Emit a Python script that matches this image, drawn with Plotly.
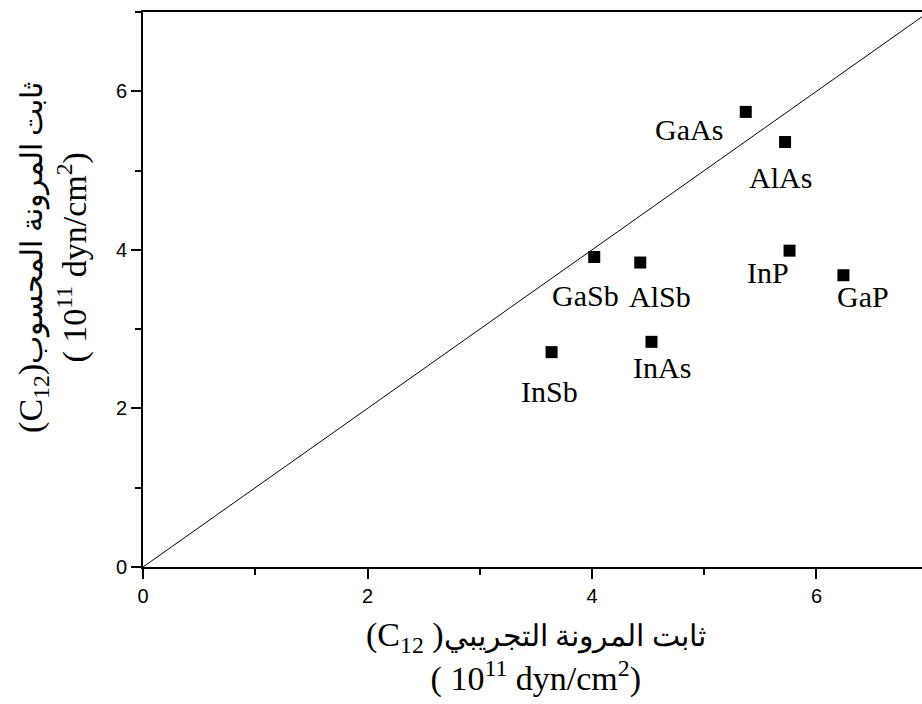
import plotly.graph_objects as go

# Elastic constant C12: experimental vs. calculated (10^11 dyn/cm^2)
materials = ["GaAs", "AlAs", "GaSb", "AlSb", "InP", "GaP", "InSb", "InAs"]
c12_experimental = [5.37, 5.72, 4.02, 4.43, 5.76, 6.24, 3.64, 4.53]
c12_calculated = [5.74, 5.36, 3.91, 3.84, 3.99, 3.68, 2.71, 2.84]

# y = x reference line
ideal_line = [0, 7]

# label placement relative to each marker (pixels: right, up)
label_shift = {
    "GaAs": (-57, -18),
    "AlAs": (-5, -35),
    "GaSb": (-9, -39),
    "AlSb": (20, -34),
    "InP": (-22, -22),
    "GaP": (20, -21),
    "InSb": (-2, -39),
    "InAs": (11, -26),
}

serif = "Liberation Serif"
sans = "Liberation Sans"

fig = go.Figure()

fig.add_trace(go.Scatter(
    x=ideal_line, y=ideal_line, mode="lines",
    line=dict(color="black", width=1), hoverinfo="skip", showlegend=False,
))

fig.add_trace(go.Scatter(
    x=c12_experimental, y=c12_calculated, mode="markers",
    marker=dict(symbol="square", size=12, color="black"),
    showlegend=False,
))

for name, xv, yv in zip(materials, c12_experimental, c12_calculated):
    dx, dy = label_shift[name]
    fig.add_annotation(
        x=xv, y=yv, xref="x", yref="y", text=name, showarrow=False,
        xshift=dx, yshift=dy, xanchor="center", yanchor="middle",
        font=dict(family=serif, size=30, color="black"),
    )

unit_line = "( 10<sup>11</sup> dyn/cm<sup>2</sup>)"
arabic = '<span style="font-size:30px">{}</span>'

# axis titles
fig.add_annotation(
    xref="paper", yref="paper", x=0.5045, y=-0.162,
    text="(C<sub>12</sub> )" + arabic.format("ثابت المرونة التجريبي") + "<br>" + unit_line,
    showarrow=False, xanchor="center", yanchor="middle", align="center",
    font=dict(family=serif, size=34, color="black"),
)
fig.add_annotation(
    xref="paper", yref="paper", x=-0.1155, y=0.557, textangle=-90,
    text="(C<sub>12</sub>)" + arabic.format("ثابت المرونة المحسوب") + "<br>" + unit_line,
    showarrow=False, xanchor="center", yanchor="middle", align="center",
    font=dict(family=serif, size=34, color="black"),
)

axis_common = dict(
    showgrid=False, zeroline=False, showline=True, linecolor="black", linewidth=2,
    ticks="outside", ticklen=10, tickwidth=2, tickcolor="black", dtick=2, tick0=0,
    tickfont=dict(family=sans, size=20, color="black"),
    minor=dict(ticks="outside", dtick=1, ticklen=6, tickwidth=2, tickcolor="black"),
)

fig.update_xaxes(range=[0, 6.94], mirror=True, **axis_common)
fig.update_yaxes(range=[0, 7], mirror=False, **axis_common)

fig.update_layout(
    width=922, height=704,
    margin=dict(l=143, r=0, t=12, b=137, pad=0),
    plot_bgcolor="white", paper_bgcolor="white",
)

fig.write_html("out.html")
